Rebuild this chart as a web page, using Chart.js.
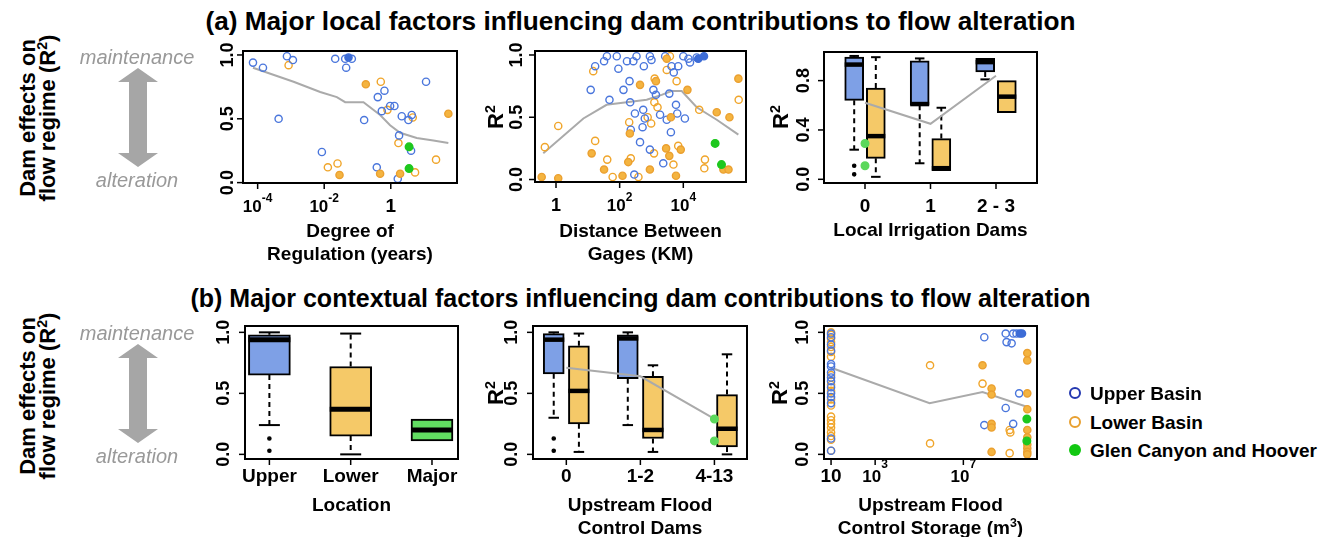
<!DOCTYPE html>
<html><head><meta charset="utf-8">
<script src="https://cdn.jsdelivr.net/npm/chart.js@4.4.1/dist/chart.umd.min.js"></script>
<style>
body{margin:0;background:#fff;width:1338px;height:537px;position:relative;overflow:hidden;font-family:"Liberation Sans",Arial,sans-serif;}
.t{position:absolute;white-space:nowrap;color:#000;transform:translate(-50%,-50%);text-align:center;}
.l{position:absolute;white-space:nowrap;color:#000;font-weight:bold;font-size:19px;line-height:23px;transform:translateY(-50%);}
sup{font-size:0.65em;vertical-align:0.55em;line-height:0;}
canvas{position:absolute;}
svg{position:absolute;left:0;top:0;}
</style></head><body>
<svg width="1338" height="537">
  <polygon points="138,68 158,82 147,82 147,153 158,153 138,167 118,153 129,153 129,82 118,82" fill="#a6a6a6"/>
  <polygon points="138,344 158,358 147,358 147,429 158,429 138,443 118,429 129,429 129,358 118,358" fill="#a6a6a6"/>
  <circle cx="1075" cy="393" r="5" fill="none" stroke="#2438b0" stroke-width="2"/>
  <circle cx="1075" cy="422" r="5" fill="none" stroke="#e8a030" stroke-width="2"/>
  <circle cx="1075" cy="450" r="6" fill="#12c812"/>
</svg>
<script>
// ---------------- DATA ----------------
// y-axis ticks
const yTickVals = [0, 0.5, 1];
const yTickLabels = ['0.0', '0.5', '1.0'];
const a3YTickVals = [0, 0.4, 0.8];
const a3YTickLabels = ['0.0', '0.4', '0.8'];

// (a1) Degree of Regulation: [log10(years), R2]
const a1XTickVals = [1e-4, 1e-2, 1];
const a1XTickLabels = ['10^-4', '10^-2', '1'];
const a1UpperOpen = [[-4.14,0.94],[-3.84,0.90],[-3.12,0.99],[-2.94,0.96],[-3.37,0.50],[-2.07,0.24],[-1.67,0.97],[-1.37,0.97],[-1.17,0.97],[-1.34,0.90],[-0.80,0.49],[-0.39,0.67],[-0.19,0.72],[-0.27,0.56],[-0.02,0.60],[0.11,0.60],[0.33,0.52],[0.53,0.49],[0.63,0.53],[0.25,0.37],[0.61,0.25],[-0.42,0.12],[0.21,0.03],[1.06,0.79]];
const a1UpperFilled = [[-1.27,0.98]];
const a1LowerOpen = [[-3.07,0.92],[-1.89,0.12],[-1.60,0.15],[-0.30,0.79],[-0.10,0.57],[0.23,0.31],[0.66,0.51],[0.73,0.08],[1.36,0.18]];
const a1LowerFilled = [[-0.75,0.77],[-1.54,0.06],[-0.32,0.07],[0.28,0.07],[1.73,0.54]];
const a1Major = [[0.55,0.28],[0.55,0.11]];
const a1Trend = [[-4.14,0.90],[-2.92,0.79],[-2.12,0.71],[-1.62,0.67],[-1.37,0.63],[-0.82,0.63],[-0.32,0.53],[-0.02,0.45],[0.28,0.39],[0.78,0.35],[1.28,0.33],[1.73,0.31]];

// (a2) Distance Between Gages: [log10(km), R2]
const a2XTickVals = [1, 1e2, 1e4];
const a2XTickLabels = ['1', '10^2', '10^4'];
const a2UpperOpen = [[1.09,0.72],[1.23,0.91],[1.51,0.95],[1.60,0.99],[1.68,0.64],[1.91,0.99],[1.96,0.89],[2.12,0.72],[2.23,0.95],[2.31,0.79],[2.33,0.62],[2.35,0.40],[2.43,0.95],[2.48,0.53],[2.64,0.30],[2.72,0.42],[2.74,0.56],[2.79,0.49],[2.76,0.91],[2.95,0.99],[3.00,0.96],[3.06,0.72],[3.14,0.68],[2.95,0.24],[3.27,0.52],[3.37,0.13],[3.43,0.99],[3.48,0.48],[3.56,0.69],[3.61,0.38],[3.63,0.91],[3.70,0.86],[3.77,0.60],[3.81,0.53],[3.84,0.91],[4.00,0.99],[4.05,0.49],[4.16,0.97],[4.21,0.94],[4.42,0.98],[2.46,0.04],[2.53,0.99]];
const a2UpperFilled = [[4.47,0.97],[4.65,0.99]];
const a2LowerOpen = [[-0.35,0.26],[0.07,0.43],[1.23,0.31],[1.17,0.87],[1.61,0.16],[1.78,0.02],[2.35,0.17],[2.30,0.46],[2.59,0.02],[2.88,0.50],[2.99,0.45],[3.08,0.21],[3.10,0.81],[3.09,0.62],[3.19,0.58],[3.48,0.88],[3.58,0.99],[3.79,0.79],[3.84,0.27],[3.69,0.12],[4.50,0.56],[4.68,0.16],[4.66,0.09],[5.74,0.64]];
const a2LowerFilled = [[-0.45,0.02],[0.07,0.01],[1.12,0.21],[1.51,0.08],[2.09,0.03],[2.27,0.14],[2.64,0.76],[2.32,0.37],[2.95,0.08],[3.14,0.79],[3.46,0.25],[3.56,0.19],[3.61,0.50],[3.77,0.03],[3.92,0.24],[4.13,0.72],[5.05,0.54],[5.45,0.50],[5.73,0.81],[5.26,0.08],[5.42,0.08],[3.48,0.97]];
const a2Major = [[5.00,0.29],[5.20,0.12]];
const a2Trend = [[-0.40,0.21],[0.86,0.49],[1.59,0.60],[2.22,0.62],[2.85,0.64],[3.32,0.68],[3.63,0.71],[3.95,0.71],[4.42,0.58],[5.05,0.48],[5.73,0.36]];

// (a3) Local Irrigation Dams: box stats [min, q1, median, q3, max]
const a3Groups = ['0', '1', '2 - 3'];
const a3UpperStats = [[0.24,0.64,0.93,0.99,1.00],[0.13,0.60,0.61,0.96,0.98],[0.81,0.87,0.95,0.98,0.98]];
const a3UpperOutliers = [[0.11,0.04],[],[]];
const a3LowerStats = [[0.02,0.17,0.35,0.74,0.99],[0.07,0.07,0.09,0.33,0.58],[0.54,0.54,0.67,0.80,0.80]];
const a3Major = [[0,0.29],[0,0.11]];
const a3Trend = [[0,0.62],[1,0.45],[2,0.84]];

// (b1) Location
const b1Groups = ['Upper', 'Lower', 'Major'];
const b1Stats = [[0.24,0.65,0.94,0.98,1.00],[0.00,0.15,0.37,0.72,0.99],[0.11,0.11,0.20,0.29,0.29]];
const b1Outliers = [[0.13,0.03],[],[]];

// (b2) Upstream Flood Control Dams
const b2Groups = ['0', '1-2', '4-13'];
const b2UpperStats = [[0.30,0.66,0.94,0.99,1.00],[0.24,0.62,0.95,0.98,1.00],null];
const b2UpperOutliers = [[0.13,0.03],[],[]];
const b2LowerStats = [[0.02,0.25,0.52,0.89,0.99],[0.02,0.13,0.20,0.64,0.73],[0.00,0.06,0.21,0.49,0.82]];
const b2Major = [[2,0.29],[2,0.11]];
const b2Trend = [[0,0.71],[1,0.64],[2,0.29]];

// (b3) Upstream Flood Control Storage: [log10(m3), R2]
const b3XTickVals = [10, 1e3, 1e7];
const b3XTickLabels = ['10', '10^3', '10^7'];
const b3UpperOpen = [[1,0.03],[1,0.13],[1,0.42],[1,0.47],[1,0.50],[1,0.55],[1,0.60],[1,0.63],[1,0.67],[1,0.72],[1,0.74],[1,0.85],[1,0.90],[1,0.96],[1,0.99],[7.95,0.24],[7.95,0.96],[8.92,0.99],[8.96,0.92],[9.19,0.91],[9.26,0.99],[9.41,0.99],[8.92,0.38],[9.26,0.25],[9.53,0.50]];
const b3UpperFilled = [[9.56,0.99],[9.66,0.99]];
const b3LowerOpen = [[1,0.03],[1,0.12],[1,0.15],[1,0.18],[1,0.22],[1,0.25],[1,0.28],[1,0.31],[1,0.40],[1,0.45],[1,0.52],[1,0.57],[1,0.65],[1,0.80],[1,0.84],[1,0.88],[1,0.92],[1,0.95],[1,0.98],[1,1.00],[5.49,0.73],[5.49,0.09],[7.87,0.58],[9.10,0.20],[9.13,0.18],[9.10,0.01]];
const b3LowerFilled = [[7.87,0.73],[8.28,0.54],[8.28,0.49],[8.28,0.25],[8.28,0.22],[8.28,0.02],[9.90,0.83],[9.90,0.77],[9.90,0.50],[9.90,0.37],[9.90,0.20],[9.90,0.14],[9.90,0.08],[9.90,0.05],[9.90,0.02],[9.90,0.00]];
const b3Major = [[9.88,0.29],[9.88,0.11]];
const b3Trend = [[1,0.71],[5.47,0.42],[7.87,0.51],[9.88,0.39]];

// ---------------- STYLE ----------------
const BLUE='#4a76dc', BLUE_FILL='#3d6cd6', ORANGE='#f0a52a', ORANGE_FILL='#f4b440', ORANGE_EDGE='#eba030';
const GREEN='#1ec81e', GREEN_LIGHT='#5cd85c', GREY='#aaaaaa';
const BOX_BLUE='#7ea0e6', BOX_ORANGE='#f5c968', BOX_GREEN='#62de62';
const FONT='"Liberation Sans", Arial, sans-serif';

function toXY(arr, logx){ return arr.map(p => ({x: logx ? Math.pow(10, p[0]) : p[0], y: p[1]})); }
function pointDs(data, fill, edge, r, order){
  return {type:'scatter', data, showLine:false, pointRadius:r||3.6, pointBorderWidth:1.4,
    pointBackgroundColor:fill, pointBorderColor:edge, order:order||1};
}
function lineDs(data, color, width, dash, order){
  return {type:'scatter', data, showLine:true, borderColor:color, borderWidth:width, borderDash:dash||[],
    pointRadius:0, pointHoverRadius:0, fill:false, tension:0, borderCapStyle:'butt', order};
}
function boxDs(center, st, outl, fill, thick, hw, medW){
  const out = [];
  if (!st) return out;
  const [mn,q1,md,q3,mx] = st;
  if (mx > q3){
    out.push(lineDs([{x:center,y:q3},{x:center,y:mx}], '#000', 2, [5,4], 8));
    out.push(lineDs([{x:center-hw/2,y:mx},{x:center+hw/2,y:mx}], '#000', 2, [], 6));
  }
  if (mn < q1){
    out.push(lineDs([{x:center,y:q1},{x:center,y:mn}], '#000', 2, [5,4], 8));
    out.push(lineDs([{x:center-hw/2,y:mn},{x:center+hw/2,y:mn}], '#000', 2, [], 6));
  }
  out.push({type:'bar', data:[{x:center, y:[q1,q3]}], backgroundColor:fill, borderColor:'#000', borderWidth:2,
    borderSkipped:false, barThickness:thick, grouped:false, order:7});
  out.push(lineDs([{x:center-hw,y:md},{x:center+hw,y:md}], '#000', medW, [], 5));
  if (outl && outl.length) out.push(pointDs(outl.map(v=>({x:center,y:v})), '#000', '#000', 1.6, 4));
  return out;
}

// R-like axes plugin
const rAxes = {
  id:'rAxes',
  afterDatasetsDraw(chart, args, o){
    const ctx = chart.ctx, ca = chart.chartArea, xs = chart.scales.x, ys = chart.scales.y;
    ctx.save();
    ctx.strokeStyle = '#000'; ctx.fillStyle = '#000';
    ctx.lineWidth = 2;
    ctx.strokeRect(ca.left, ca.top, ca.right-ca.left, ca.bottom-ca.top);
    ctx.lineWidth = 1.5;
    o.yVals.forEach((v,i) => {
      const py = ys.getPixelForValue(v);
      ctx.beginPath(); ctx.moveTo(ca.left-6, py); ctx.lineTo(ca.left, py); ctx.stroke();
      ctx.save(); ctx.translate(ca.left - o.yOff, py); ctx.rotate(-Math.PI/2);
      ctx.font = 'bold 18px ' + FONT; ctx.textAlign = 'center'; ctx.textBaseline = 'middle';
      ctx.fillText(o.yLabels[i], 0, 1); ctx.restore();
    });
    o.xVals.forEach((v,i) => {
      const px = xs.getPixelForValue(v);
      ctx.beginPath(); ctx.moveTo(px, ca.bottom); ctx.lineTo(px, ca.bottom+6); ctx.stroke();
      const lab = o.xLabels[i], base = ca.bottom + o.xBase;
      ctx.textBaseline = 'alphabetic';
      if (lab.indexOf('^') >= 0){
        const [b, s] = lab.split('^');
        ctx.font = 'bold 17px ' + FONT; const wb = ctx.measureText(b).width;
        ctx.font = 'bold 12px ' + FONT; const wsu = ctx.measureText(s).width;
        const x0 = px - (wb + wsu)/2;
        ctx.textAlign = 'left';
        ctx.font = 'bold 17px ' + FONT; ctx.fillText(b, x0, base);
        ctx.font = 'bold 12px ' + FONT; ctx.fillText(s, x0 + wb, base - o.supRise);
      } else {
        ctx.font = 'bold ' + (o.plainSize||19) + 'px ' + FONT; ctx.textAlign = 'center';
        ctx.fillText(lab, px, base);
      }
    });
    ctx.restore();
  }
};

const PAD = {left:75, top:12, right:12, bottom:45};
function makeChart(box, xScale, yRange, datasets, axisOpts){
  const c = document.createElement('canvas');
  const w = box[2]-box[0]+PAD.left+PAD.right, h = box[3]-box[1]+PAD.top+PAD.bottom;
  c.width = w; c.height = h;
  c.style.width = w+'px'; c.style.height = h+'px';
  c.style.left = (box[0]-PAD.left)+'px'; c.style.top = (box[1]-PAD.top)+'px';
  document.body.appendChild(c);
  new Chart(c, {
    type:'scatter',
    data:{datasets},
    options:{
      responsive:false, animation:false, devicePixelRatio:1, events:[],
      layout:{padding:PAD},
      scales:{
        x:Object.assign({display:false, offset:false, bounds:'data'}, xScale),
        y:{type:'linear', display:false, min:yRange[0], max:yRange[1]}
      },
      plugins:{legend:{display:false}, tooltip:{enabled:false}, rAxes:axisOpts}
    },
    plugins:[rAxes]
  });
}

function scatterPanel(upO, upF, loO, loF, major, trend){
  return [
    lineDs(toXY(trend,true), GREY, 2, [], 9),
    pointDs(toXY(upO,true), 'rgba(0,0,0,0)', BLUE, 3.6, 3),
    pointDs(toXY(loO,true), 'rgba(0,0,0,0)', ORANGE, 3.6, 3),
    pointDs(toXY(upF,true), BLUE_FILL, BLUE_FILL, 3.6, 2),
    pointDs(toXY(loF,true), ORANGE_FILL, ORANGE_EDGE, 3.6, 2),
    pointDs(toXY(major,true), GREEN, GREEN, 3.8, 1)
  ];
}

// (a1)
makeChart([243,51,457,183], {type:'logarithmic', min:Math.pow(10,-4.44), max:Math.pow(10,1.99)}, [-0.003,1.031],
  scatterPanel(a1UpperOpen, a1UpperFilled, a1LowerOpen, a1LowerFilled, a1Major, a1Trend),
  {yVals:yTickVals, yLabels:yTickLabels, yOff:16, xVals:a1XTickVals, xLabels:a1XTickLabels, xBase:29, supRise:10});
// (a2)
makeChart([535,51,746,182], {type:'logarithmic', min:Math.pow(10,-0.66), max:Math.pow(10,5.97)}, [-0.02,1.032],
  scatterPanel(a2UpperOpen, a2UpperFilled, a2LowerOpen, a2LowerFilled, a2Major, a2Trend),
  {yVals:yTickVals, yLabels:yTickLabels, yOff:19, xVals:a2XTickVals, xLabels:a2XTickLabels, xBase:29, supRise:10, plainSize:18});
// (a3)
(function(){
  const ds = [];
  const thick = 19, hw = 0.145, off = 0.165;
  a3Groups.forEach((g,i) => {
    ds.push(...boxDs(i-off, a3UpperStats[i], a3UpperOutliers[i], BOX_BLUE, thick, hw, 4.5));
    ds.push(...boxDs(i+off, a3LowerStats[i], null, BOX_ORANGE, thick, hw, 4.5));
  });
  ds.push(lineDs(toXY(a3Trend,false), GREY, 2, [], 2));
  ds.push(pointDs(toXY(a3Major,false), GREEN_LIGHT, GREEN_LIGHT, 3.8, 1));
  makeChart([824,52,1037,183], {type:'linear', min:-0.626, max:2.626}, [-0.03,1.032], ds,
    {yVals:a3YTickVals, yLabels:a3YTickLabels, yOff:21, xVals:[0,1,2], xLabels:a3Groups, xBase:29, supRise:10});
})();
// (b1)
(function(){
  const ds = [];
  const fills = [BOX_BLUE, BOX_ORANGE, BOX_GREEN];
  b1Groups.forEach((g,i) => ds.push(...boxDs(i, b1Stats[i], b1Outliers[i], fills[i], 42, 0.258, 5)));
  makeChart([245,326,458,459], {type:'linear', min:-0.30, max:2.32}, [-0.038,1.052], ds,
    {yVals:yTickVals, yLabels:yTickLabels, yOff:22, xVals:[0,1,2], xLabels:b1Groups, xBase:23, supRise:14});
})();
// (b2)
(function(){
  const ds = [];
  const thick = 21, hw = 0.142, off = 0.17;
  b2Groups.forEach((g,i) => {
    ds.push(...boxDs(i-off, b2UpperStats[i], b2UpperOutliers[i], BOX_BLUE, thick, hw, 4.5));
    ds.push(...boxDs(i+off, b2LowerStats[i], null, BOX_ORANGE, thick, hw, 4.5));
  });
  ds.push(lineDs(toXY(b2Trend,false), GREY, 2, [], 2));
  ds.push(pointDs(toXY(b2Major,false), GREEN_LIGHT, GREEN_LIGHT, 3.8, 1));
  makeChart([533,326,747,459], {type:'linear', min:-0.45, max:2.44}, [-0.038,1.052], ds,
    {yVals:yTickVals, yLabels:yTickLabels, yOff:22, xVals:[0,1,2], xLabels:b2Groups, xBase:23, supRise:14});
})();
// (b3)
makeChart([824,326,1037,459], {type:'logarithmic', min:Math.pow(10,0.68), max:Math.pow(10,10.34)}, [-0.038,1.052],
  scatterPanel(b3UpperOpen, b3UpperFilled, b3LowerOpen, b3LowerFilled, b3Major, b3Trend),
  {yVals:yTickVals, yLabels:yTickLabels, yOff:22, xVals:b3XTickVals, xLabels:b3XTickLabels, xBase:23, supRise:14});

// ---------------- TEXT ----------------
function txt(html, x, y, css, rot){
  const d = document.createElement('div');
  d.className = 't'; d.innerHTML = html;
  d.style.left = x+'px'; d.style.top = y+'px';
  Object.assign(d.style, css||{});
  if (rot) d.style.transform = 'translate(-50%,-50%) rotate(-90deg)';
  document.body.appendChild(d);
}
txt('(a) Major local factors influencing dam contributions to flow alteration', 640.5, 21, {fontWeight:'bold', fontSize:'26.2px', lineHeight:'28px'});
txt('(b) Major contextual factors influencing dam contributions to flow alteration', 640.5, 298, {fontWeight:'bold', fontSize:'25px', lineHeight:'28px'});
const sideCss = {fontWeight:'bold', fontSize:'22px', lineHeight:'20px'};
txt('Dam effects on<br>flow regime (R<sup>2</sup>)', 38, 118, sideCss, true);
txt('Dam effects on<br>flow regime (R<sup>2</sup>)', 38, 396, sideCss, true);
const greyCss = {fontStyle:'italic', fontSize:'20px', lineHeight:'22px', color:'#999999'};
txt('maintenance', 137, 57, greyCss); txt('alteration', 137, 180, greyCss);
txt('maintenance', 137, 333, greyCss); txt('alteration', 137, 456, greyCss);
const rCss = {fontWeight:'bold', fontSize:'22px', lineHeight:'24px'};
txt('R<sup>2</sup>', 495.5, 117, rCss, true);
txt('R<sup>2</sup>', 781, 117, rCss, true);
txt('R<sup>2</sup>', 495.5, 392.5, rCss, true);
txt('R<sup>2</sup>', 779.5, 392.5, rCss, true);
const axCss = {fontWeight:'bold', fontSize:'19px', lineHeight:'23.5px'};
txt('Degree of<br>Regulation (years)', 350, 241.5, axCss);
txt('Distance Between<br>Gages (KM)', 640.5, 241.5, axCss);
txt('Local Irrigation Dams', 930.5, 229.5, axCss);
txt('Location', 351.5, 505, axCss);
txt('Upstream Flood<br>Control Dams', 640, 515.5, axCss);
txt('Upstream Flood<br>Control Storage (m<sup>3</sup>)', 930.5, 515.5, axCss);
[['Upper Basin',393],['Lower Basin',422],['Glen Canyon and Hoover',450]].forEach(([s,y]) => {
  const d = document.createElement('div'); d.className = 'l'; d.textContent = s;
  d.style.left = '1090px'; d.style.top = y+'px'; document.body.appendChild(d);
});
</script>
</body></html>
